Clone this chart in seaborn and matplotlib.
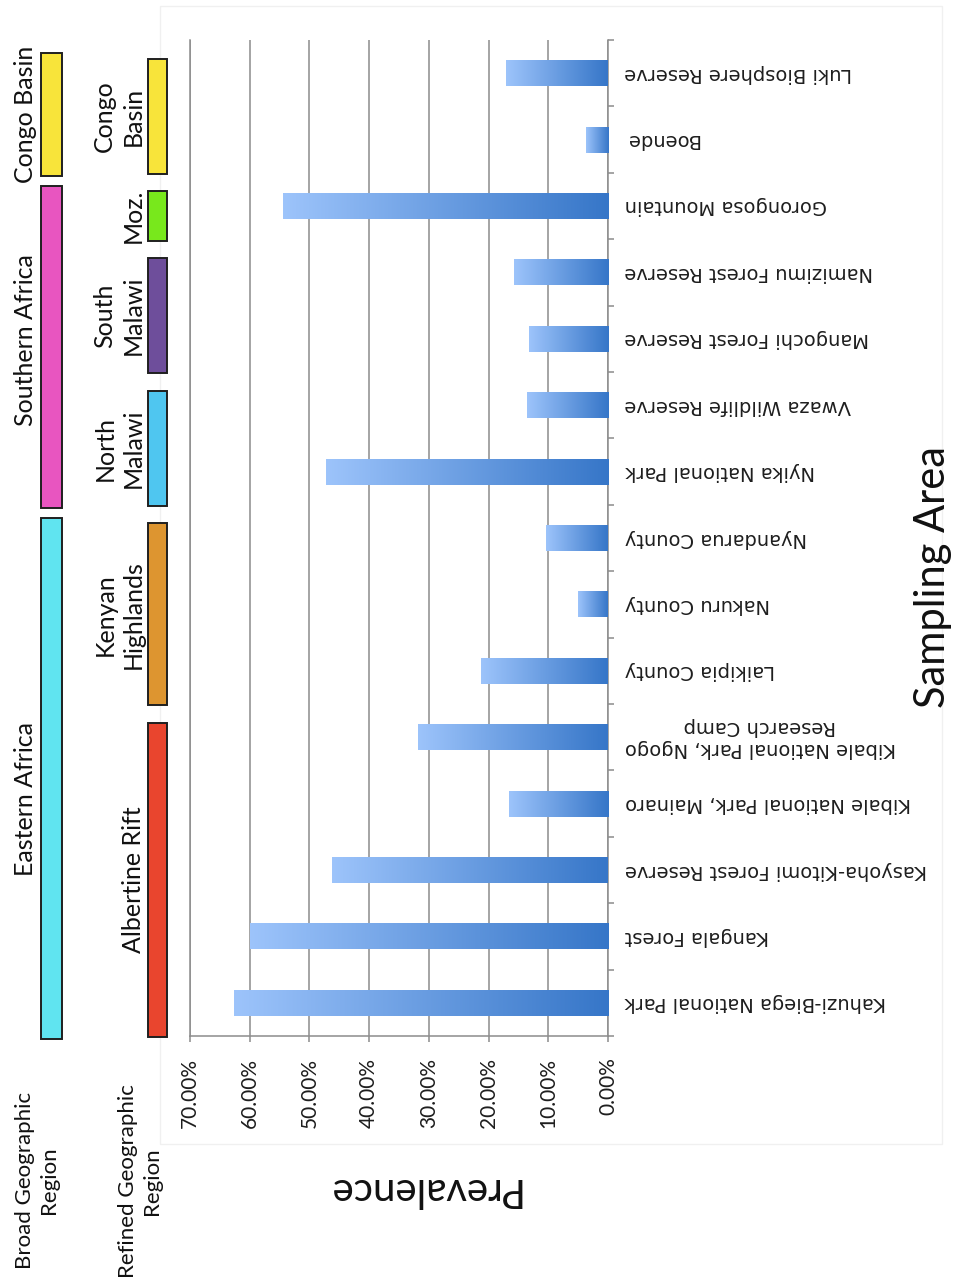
import numpy as np
import pandas as pd
import matplotlib
matplotlib.use("Agg")
import matplotlib.pyplot as plt
import seaborn as sns
from matplotlib.patches import Rectangle
from matplotlib.colors import LinearSegmentedColormap
from matplotlib.ticker import FixedLocator, FuncFormatter

# ---- data -------------------------------------------------------------
sites = [
    "Luki Biosphere Reserve",
    "Boende",
    "Gorongosa Mountain",
    "Namizimu Forest Reserve",
    "Mangochi Forest Reserve",
    "Vwaza Wildlife Reserve",
    "Nyika National Park",
    "Nyandarua County",
    "Nakuru County",
    "Laikipia County",
    "Kibale National Park, Ngogo\nResearch Camp",
    "Kibale National Park, Mainaro",
    "Kasyoha-Kitomi Forest Reserve",
    "Kangala Forest",
    "Kahuzi-Biega National Park",
]
prevalence = [0.170, 0.037, 0.545, 0.158, 0.133, 0.136, 0.473,
              0.103, 0.050, 0.212, 0.318, 0.166, 0.462, 0.600, 0.627]
value_ticks = [0.0, 0.1, 0.2, 0.3, 0.4, 0.5, 0.6, 0.7]

refined_names = ["Congo\nBasin", "Moz.", "South\nMalawi", "North\nMalawi",
                 "Kenyan\nHighlands", "Albertine Rift"]
refined_counts = [2, 1, 2, 2, 3, 5]
refined_colors = ["#f8e43a", "#78e81c", "#6e4e9b", "#4fc6f0", "#dd9530", "#e9452e"]

broad_names = ["Congo Basin", "Southern Africa", "Eastern Africa"]
broad_counts = [2, 5, 8]
broad_colors = ["#f8e43a", "#e855c0", "#60e4f0"]

# ---- figure -----------------------------------------------------------
W, H = 955, 1282
sns.set_theme(style="white")
plt.rcParams["font.family"] = ["DejaVu Sans"]

fig = plt.figure(figsize=(W / 100, H / 100), dpi=100)
fig.patch.set_facecolor("white")


def fx(px):
    return px / W


def fy(py):
    return 1 - py / H


TOP, BOTTOM, LEFT, RIGHT = 40, 1036, 190, 608

# faint chart-area frame, kept behind everything else
fig.add_artist(Rectangle((fx(160), fy(1144)), fx(942) - fx(160), (1144 - 6) / H,
                         transform=fig.transFigure, fill=False, zorder=-5,
                         edgecolor="#f0f0f0", linewidth=1.0))

ax = fig.add_axes([fx(LEFT), fy(BOTTOM), fx(RIGHT) - fx(LEFT), (BOTTOM - TOP) / H])
ax.set_facecolor("none")

df = pd.DataFrame({"site": sites, "prevalence": prevalence})
sns.barplot(data=df, x="prevalence", y="site", orient="h", width=0.39,
            color="#5b8fd6", saturation=1, ax=ax, zorder=3)

# horizontal light-to-dark gradient along each bar
bar_cmap = LinearSegmentedColormap.from_list("bar", ["#3676c8", "#9dc4fb"])
grad = np.linspace(0, 1, 256)[None, :]
for p in list(ax.patches):
    x0, y0, w, h = p.get_x(), p.get_y(), p.get_width(), p.get_height()
    im = ax.imshow(grad, cmap=bar_cmap, extent=(x0, x0 + w, y0 + h, y0),
                   aspect="auto", zorder=3, interpolation="bilinear")
    im.set_clip_path(p)
    p.set_facecolor("none")
    p.set_edgecolor("none")

ax.set_xlim(0.70, 0.0)
ax.set_ylim(len(sites) - 0.5, -0.5)
ax.set_xlabel("")
ax.set_ylabel("")

# value axis
ax.set_xticks(value_ticks)
ax.xaxis.set_major_formatter(FuncFormatter(lambda v, _: f"{v * 100:.2f}%"))
ax.tick_params(axis="x", which="major", direction="out", bottom=True,
               length=4.5, width=1.1, color="#8c8c8c", pad=11,
               labelsize=15, labelrotation=90, labelcolor="#1e1e1e",
               labelfontfamily="Lato")

# category axis on the right, labels turned upside down
ax.yaxis.set_minor_locator(FixedLocator(np.arange(-0.5, len(sites), 1.0)))
ax.tick_params(axis="y", which="major", left=False, right=True,
               labelleft=False, labelright=True, length=0, pad=12,
               labelsize=14, labelrotation=180, labelcolor="#1e1e1e")
ax.tick_params(axis="y", which="minor", left=False, right=True,
               direction="out", length=4.5, width=1.1, color="#8c8c8c")
for tick in ax.yaxis.get_major_ticks():
    tick.label2.set_multialignment("center")
    tick.label2.set_verticalalignment("center")

ax.grid(axis="x", color="#8c8c8c", linewidth=1.1)
ax.grid(axis="y", visible=False)
ax.set_axisbelow(True)
for side in ["left", "right", "bottom"]:
    ax.spines[side].set_visible(True)
    ax.spines[side].set_color("#8c8c8c")
    ax.spines[side].set_linewidth(1.1)
ax.spines["top"].set_visible(False)

# ---- region bands ------------------------------------------------------
rax = fig.add_axes([0, fy(BOTTOM), fx(LEFT), (BOTTOM - TOP) / H])
rax.set_xlim(0, LEFT)
rax.set_ylim(len(sites) - 0.5, -0.5)
rax.axis("off")


def draw_groups(names, counts, colors, x, w, top_pad, bot_pad, label_x, shifts):
    start = 0
    for name, n, c, sh in zip(names, counts, colors, shifts):
        y0 = start - 0.5 + top_pad
        y1 = start + n - 0.5 + bot_pad
        rax.add_patch(Rectangle((x, y0), w, y1 - y0, facecolor=c,
                                edgecolor="#1f1f1f", linewidth=1.4, clip_on=False))
        rax.text(label_x, (y0 + y1) / 2 + sh, name, rotation=90, ha="right",
                 va="center", multialignment="center", fontsize=18,
                 family="Lato", color="#111111", linespacing=1.3, clip_on=False)
        start += n


draw_groups(broad_names, broad_counts, broad_colors, 41, 21, 0.2, 0.05, 37,
            [0.0, -0.1, 0.3])
draw_groups(refined_names, refined_counts, refined_colors, 148, 19, 0.28, 0.02, 145,
            [0, 0, 0, 0, 0, 0])

# ---- titles ----------------------------------------------------------
fig.text(fx(37), fy(1180), "Broad Geographic\nRegion", rotation=90, ha="center",
         va="center", multialignment="center", fontsize=16, family="Lato",
         color="#111111", linespacing=1.3)
fig.text(fx(140), fy(1181), "Refined Geographic\nRegion", rotation=90, ha="center",
         va="center", multialignment="center", fontsize=16, family="Lato",
         color="#111111", linespacing=1.3)
fig.text(fx(422), fy(1189), "Prevalence", rotation=180, ha="center", va="center",
         fontsize=29, family="Lato", color="#111111")
fig.text(fx(933), fy(577), "Sampling Area", rotation=90, ha="center", va="center",
         fontsize=30, family="Lato", color="#111111")

fig.savefig("out.png", dpi=100, facecolor="white")
